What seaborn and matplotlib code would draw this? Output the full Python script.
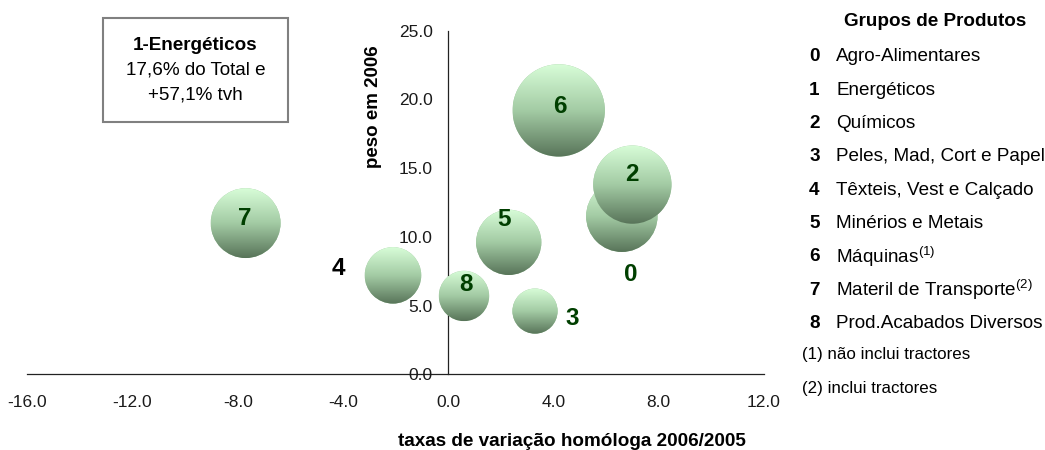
import numpy as np
import pandas as pd
import matplotlib
matplotlib.use('Agg')
import matplotlib.pyplot as plt
from matplotlib.colors import LinearSegmentedColormap
from matplotlib.patches import Ellipse, Rectangle
import seaborn as sns

# dados: grupos de produtos, taxa de variação homóloga e peso em 2006
grupos = ['0', '1', '2', '3', '4', '5', '6', '7', '8']
nomes = ['Agro-Alimentares', 'Energéticos', 'Químicos', 'Peles, Mad, Cort e Papel',
         'Têxteis, Vest e Calçado', 'Minérios e Metais',
         'Máquinas$^{\\mathregular{(1)}}$', 'Materil de Transporte$^{\\mathregular{(2)}}$',
         'Prod.Acabados Diversos']
tvh = [6.6, 57.1, 7.0, 3.3, -2.1, 2.3, 4.2, -7.7, 0.6]
peso = [11.5, 17.6, 13.8, 4.6, 7.2, 9.6, 19.2, 11.0, 5.7]
notas = ['(1) não inclui tractores', '(2) inclui tractores']
xticks = [-16, -12, -8, -4, 0, 4, 8, 12]
yticks = [0, 5, 10, 15, 20, 25]

df = pd.DataFrame({'grupo': grupos, 'nome': nomes, 'tvh': tvh, 'peso': peso})
dentro = df[df['tvh'] <= 12].reset_index(drop=True)   # o grupo 1 fica fora do eixo

sns.set_style('white')
plt.rcParams['font.family'] = ['Liberation Sans', 'DejaVu Sans']
plt.rcParams['mathtext.default'] = 'regular'
plt.rcParams['text.color'] = 'black'

fig = plt.figure(figsize=(10.45, 4.5), dpi=100)
ax = fig.add_axes([0.0261, 0.1682, 0.7049, 0.7636])

sns.scatterplot(data=dentro, x='tvh', y='peso', size='peso', sizes=(0, 5750),
                size_norm=(0, 25), color='#9cc49c', linewidth=0, legend=False,
                ax=ax, zorder=1)

ax.set_xlim(-16, 12)
ax.set_ylim(0, 25)

# gradiente vertical em cada bolha (claro em cima, escuro em baixo)
cmap = LinearSegmentedColormap.from_list('bolha', ['#587459', '#a3cba4', '#d8fdd8'])
grad = np.linspace(0, 1, 256).reshape(-1, 1)
coll = ax.collections[0]
offs = coll.get_offsets()
ss = coll.get_sizes()
for i, (x, y) in enumerate(offs):
    r_px = np.sqrt(ss[i]) / 2 * fig.dpi / 72
    p = ax.transData.transform((x, y))
    x2, y2 = ax.transData.inverted().transform(p + r_px)
    dx, dy = x2 - x, y2 - y
    circ = Ellipse((x, y), 2 * dx, 2 * dy, transform=ax.transData, facecolor='none', edgecolor='none')
    ax.add_patch(circ)
    im = ax.imshow(grad, cmap=cmap, origin='lower', aspect='auto',
                   extent=[x - dx, x + dx, y - dy, y + dy], zorder=2 + i * 0.01)
    im.set_clip_path(circ)

ax.set_xlim(-16, 12)
ax.set_ylim(0, 25)

# rótulos das bolhas (desvio em pontos)
desvio = {'0': (6.3, -42), '2': (0, 7.2), '3': (26.6, -5.5), '4': (-39.6, 4.6),
          '5': (-3.3, 16.3), '6': (0.7, 2.9), '7': (-0.7, 3.1), '8': (1.4, 8.4)}
for _, row in dentro.iterrows():
    cor = 'black' if row['grupo'] == '4' else '#003f00'
    ax.annotate(row['grupo'], (row['tvh'], row['peso']), xytext=desvio[row['grupo']],
                textcoords='offset points', ha='center', va='center',
                fontsize=17.5, fontweight='bold', color=cor, zorder=5)

# eixos
sns.despine(ax=ax, top=True, right=True)
ax.spines['left'].set_position(('data', 0))
for s in ['left', 'bottom']:
    ax.spines[s].set_color('#222222')
    ax.spines[s].set_linewidth(0.9)
    ax.spines[s].set_zorder(0.5)
ax.set_xticks(xticks)
ax.set_xticklabels([f'{v:.1f}' for v in xticks])
ax.set_yticks(yticks)
ax.set_yticklabels([f'{v:.1f}' for v in yticks])
ax.tick_params(axis='x', direction='out', length=4, width=0.9, pad=11, color='#222222')
ax.tick_params(axis='y', direction='out', length=4, width=0.9, pad=7, color='#222222')
for lab in ax.get_xticklabels() + ax.get_yticklabels():
    lab.set_fontsize(12.5)
    lab.set_color('#1a1a1a')
    lab.set_zorder(6)
ax.set_xlabel('')
ax.set_ylabel('')
ax.patch.set_alpha(0)

fig.text(571.7 / 1045, 1 - 441.7 / 450, 'taxas de variação homóloga 2006/2005',
         ha='center', va='center', fontsize=13.6, fontweight='bold')
fig.text(373 / 1045, 1 - 107 / 450, 'peso em 2006', rotation=90,
         ha='center', va='center', fontsize=13.5, fontweight='bold')

# caixa de nota sobre os energéticos
e = df[df['grupo'] == '1'].iloc[0]
fig.patches.append(Rectangle((103.3 / 1045, 1 - 122.3 / 450), 184.4 / 1045, 104 / 450,
                             transform=fig.transFigure, facecolor='white',
                             edgecolor='#808080', linewidth=1.5))
fig.text(195.5 / 1045, 1 - 45.7 / 450, f"1-{e['nome']}", ha='center', va='center',
         fontsize=13.6, fontweight='bold')
fig.text(195.5 / 1045, 1 - 70 / 450, f"{e['peso']:.1f}% do Total e".replace('.', ','),
         ha='center', va='center', fontsize=13.6)
fig.text(195.5 / 1045, 1 - 95 / 450, f"+{e['tvh']:.1f}% tvh".replace('.', ','),
         ha='center', va='center', fontsize=13.6)

# legenda dos grupos
fig.text(935 / 1045, 1 - 21.7 / 450, 'Grupos de Produtos', ha='center', va='center',
         fontsize=13.6, fontweight='bold')
for i, (g, n) in enumerate(zip(grupos, nomes)):
    yy = 1 - (56.7 + i * 33.33) / 450
    fig.text(814.3 / 1045, yy, g, ha='center', va='center', fontsize=13.6, fontweight='bold')
    fig.text(836 / 1045, yy, n, ha='left', va='center', fontsize=13.6)
for i, n in enumerate(notas):
    fig.text(801.7 / 1045, 1 - (355 + i * 33.3) / 450, n, ha='left', va='center', fontsize=12.2)

fig.savefig('out.png', dpi=100)
